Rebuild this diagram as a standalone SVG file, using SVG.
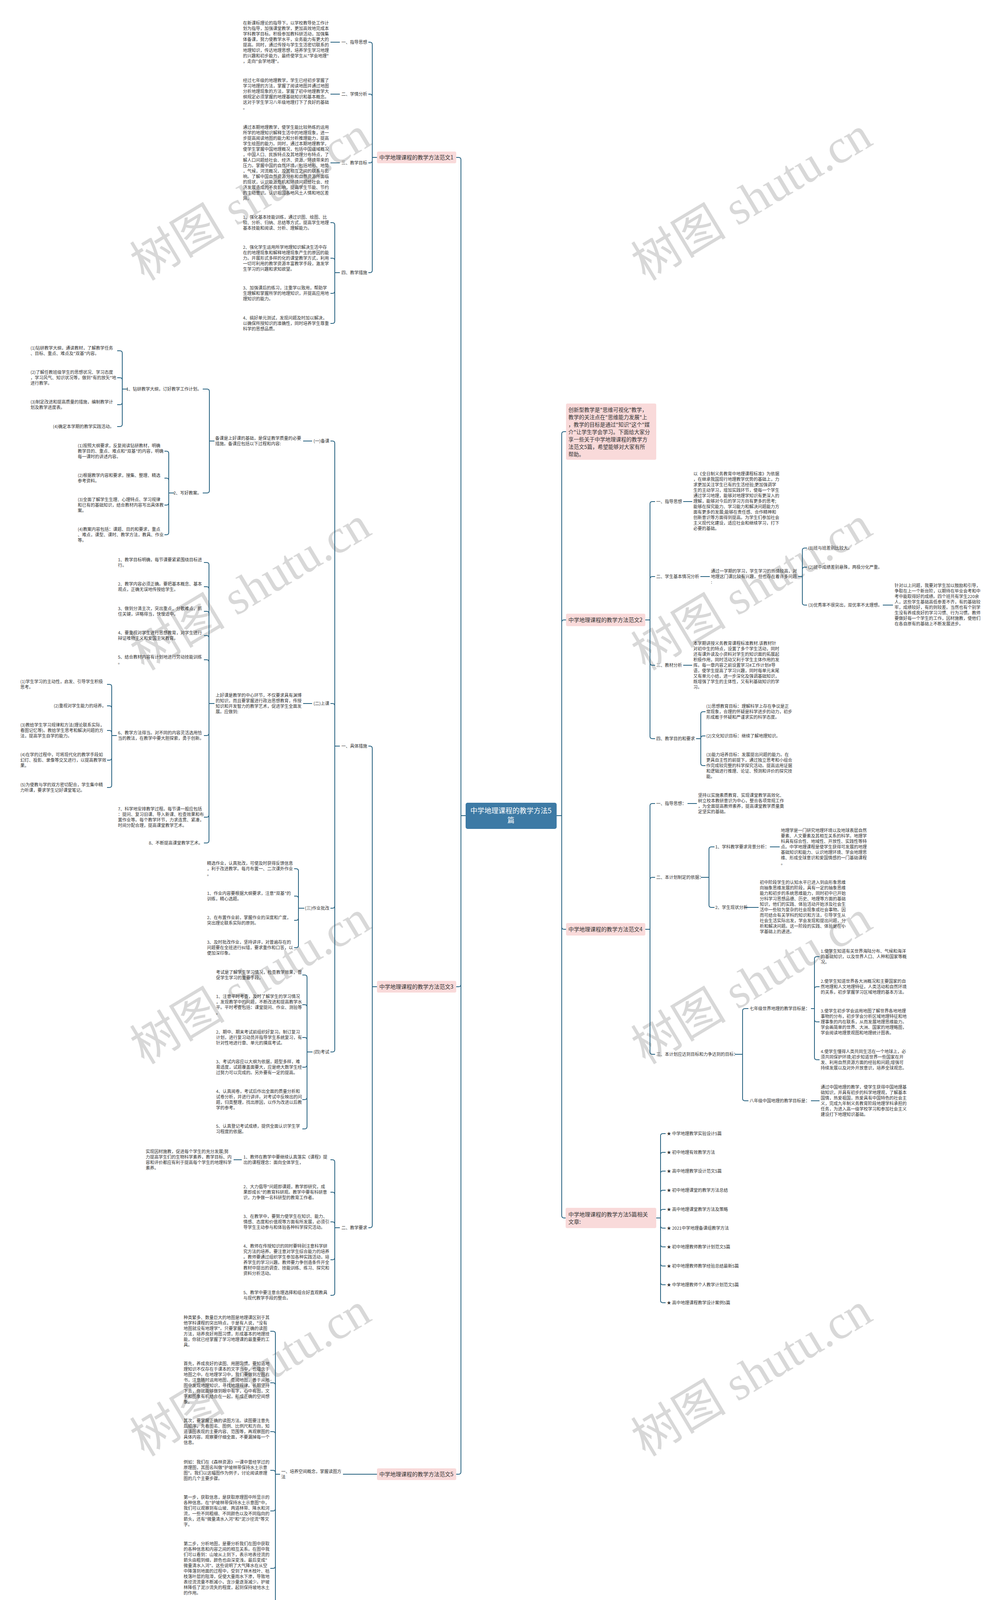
<svg xmlns="http://www.w3.org/2000/svg" width="2560" height="4214" viewBox="0 0 2560 4214">
<style>
text{font-family:"Noto Sans CJK SC","Liberation Sans",sans-serif;fill:#333}
.t{font-size:11px}
.e{font-size:11px;text-anchor:end}
.n{font-size:14px;text-anchor:middle}
.i{font-size:13.5px}
.c{font-size:18px;fill:#fff;text-anchor:middle}
.box{fill:#f9dada}
.wm{font-family:"Liberation Serif","Noto Sans CJK SC",serif;font-size:122px;fill:#cfcfcf;text-anchor:middle;opacity:.8}
#edges path{fill:none;stroke:#24607f;stroke-width:2}
</style>
<rect width="2560" height="4214" fill="#fff"/>
<g id="watermark">
<text class="wm" x="642" y="550" transform="rotate(-31 642 510)">树图 shutu.cn</text>
<text class="wm" x="1925" y="550" transform="rotate(-31 1925 510)">树图 shutu.cn</text>
<text class="wm" x="642" y="1548" transform="rotate(-31 642 1508)">树图 shutu.cn</text>
<text class="wm" x="1925" y="1548" transform="rotate(-31 1925 1508)">树图 shutu.cn</text>
<text class="wm" x="642" y="2556" transform="rotate(-31 642 2516)">树图 shutu.cn</text>
<text class="wm" x="1925" y="2556" transform="rotate(-31 1925 2516)">树图 shutu.cn</text>
<text class="wm" x="642" y="3560" transform="rotate(-31 642 3520)">树图 shutu.cn</text>
<text class="wm" x="1925" y="3560" transform="rotate(-31 1925 3520)">树图 shutu.cn</text>
</g>
<g id="edges">
<path d="M1168,403 H1174 Q1180,403 1180,409 V2088 H1192"/>
<path d="M1168,2526 H1174 Q1180,2526 1180,2520 V2088"/>
<path d="M1168,3774 H1174 Q1180,3774 1180,3768 V2088"/>
<path d="M1449,1105 H1444 Q1438,1105 1438,1111 V2088 H1425"/>
<path d="M1449,1587 H1444 Q1438,1587 1438,1593 V2088"/>
<path d="M1449,2379 H1444 Q1438,2379 1438,2373 V2088"/>
<path d="M1448,3118 H1444 Q1438,3118 1438,3112 V2088"/>
<path d="M943,108 H947 Q953,108 953,114 V403 H965"/>
<path d="M943,241 H947 Q953,241 953,247 V403"/>
<path d="M943,417 H947 Q953,417 953,411 V403"/>
<path d="M943,698 H947 Q953,698 953,692 V403"/>
<path d="M846,108 H870"/><path d="M846,241 H870"/><path d="M846,417 H870"/>
<path d="M846,570 H851 Q857,570 857,576 V698 H870"/>
<path d="M846,661 H851 Q857,661 857,667 V698"/>
<path d="M846,751 H851 Q857,751 857,745 V698"/>
<path d="M846,828 H851 Q857,828 857,822 V698"/>
<path d="M943,1910 H947 Q953,1910 953,1916 V2526 H965"/>
<path d="M943,3143 H947 Q953,3143 953,3137 V2526"/>
<path d="M846,1129 H851 Q857,1129 857,1135 V1910 H870"/>
<path d="M846,1801 H851 Q857,1801 857,1807 V1910"/>
<path d="M846,2325 H851 Q857,2325 857,2319 V1910"/>
<path d="M846,2693 H851 Q857,2693 857,2687 V1910"/>
<path d="M776,1129 H799"/>
<path d="M519,996 H530 Q536,996 536,1002 V1129 H549"/>
<path d="M519,1262 H530 Q536,1262 536,1256 V1129"/>
<path d="M300,898 H307 Q313,898 313,904 V996 H327"/>
<path d="M300,967 H307 Q313,967 313,973 V996"/>
<path d="M300,1036 H307 Q313,1036 313,1030 V996"/>
<path d="M300,1092 H307 Q313,1092 313,1086 V996"/>
<path d="M421,1155 H426 Q432,1155 432,1161 V1262 H446"/>
<path d="M421,1224 H426 Q432,1224 432,1230 V1262"/>
<path d="M421,1293 H426 Q432,1293 432,1287 V1262"/>
<path d="M421,1369 H426 Q432,1369 432,1363 V1262"/>
<path d="M776,1801 H799"/>
<path d="M522,1440 H529 Q535,1440 535,1446 V1801 H549"/>
<path d="M522,1502 H529 Q535,1502 535,1508 V1801"/>
<path d="M522,1565 H529 Q535,1565 535,1571 V1801"/>
<path d="M522,1627 H529 Q535,1627 535,1633 V1801"/>
<path d="M522,1689 H529 Q535,1689 535,1695 V1801"/>
<path d="M522,1883 H529 Q535,1883 535,1877 V1801"/>
<path d="M522,2092 H529 Q535,2092 535,2086 V1801"/>
<path d="M522,2158 H529 Q535,2158 535,2152 V1801"/>
<path d="M274,1752 H280 Q286,1752 286,1758 V1883 H299"/>
<path d="M274,1807 H280 Q286,1807 286,1813 V1883"/>
<path d="M274,1870 H280 Q286,1870 286,1876 V1883"/>
<path d="M274,1946 H280 Q286,1946 286,1940 V1883"/>
<path d="M274,2016 H280 Q286,2016 286,2010 V1883"/>
<path d="M753,2224 H758 Q764,2224 764,2230 V2325 H779"/>
<path d="M753,2294 H758 Q764,2294 764,2300 V2325"/>
<path d="M753,2356 H758 Q764,2356 764,2350 V2325"/>
<path d="M753,2426 H758 Q764,2426 764,2420 V2325"/>
<path d="M774,2496 H780 Q786,2496 786,2502 V2693 H800"/>
<path d="M774,2572 H780 Q786,2572 786,2578 V2693"/>
<path d="M774,2656 H780 Q786,2656 786,2662 V2693"/>
<path d="M774,2732 H780 Q786,2732 786,2726 V2693"/>
<path d="M774,2815 H780 Q786,2815 786,2809 V2693"/>
<path d="M774,2890 H780 Q786,2890 786,2884 V2693"/>
<path d="M846,2969 H851 Q857,2969 857,2975 V3143 H870"/>
<path d="M846,3052 H851 Q857,3052 857,3058 V3143"/>
<path d="M846,3128 H851 Q857,3128 857,3134 V3143"/>
<path d="M846,3225 H851 Q857,3225 857,3219 V3143"/>
<path d="M846,3316 H851 Q857,3316 857,3310 V3143"/>
<path d="M598,2969 H619"/>
<path d="M878,3774 H965"/>
<path d="M692,3408 H699 Q705,3408 705,3414 V3774 H717"/>
<path d="M692,3540 H699 Q705,3540 705,3546 V3774"/>
<path d="M692,3665 H699 Q705,3665 705,3671 V3774"/>
<path d="M692,3764 H699 Q705,3764 705,3770 V3774"/>
<path d="M692,3868 H699 Q705,3868 705,3862 V3774"/>
<path d="M692,4015 H699 Q705,4015 705,4009 V3774"/>
<path d="M692,4141 H699 Q705,4141 705,4135 V3774"/>
<path d="M1677,1284 H1670 Q1664,1284 1664,1290 V1587 H1652"/>
<path d="M1677,1476 H1670 Q1664,1476 1664,1482 V1587"/>
<path d="M1677,1703 H1670 Q1664,1703 1664,1697 V1587"/>
<path d="M1677,1891 H1670 Q1664,1891 1664,1885 V1587"/>
<path d="M1749,1284 H1772"/><path d="M1793,1476 H1817"/><path d="M1749,1703 H1772"/>
<path d="M2066,1403 H2060 Q2054,1403 2054,1409 V1476 H2043"/>
<path d="M2066,1452 H2060 Q2054,1452 2054,1458 V1476"/>
<path d="M2066,1549 H2060 Q2054,1549 2054,1543 V1476"/>
<path d="M2260,1549 H2286"/>
<path d="M1806,1822 H1800 Q1794,1822 1794,1828 V1891 H1782"/>
<path d="M1806,1884 H1800 Q1794,1884 1794,1890 V1891"/>
<path d="M1806,1960 H1800 Q1794,1960 1794,1954 V1891"/>
<path d="M1677,2057 H1670 Q1664,2057 1664,2063 V2379 H1652"/>
<path d="M1677,2246 H1670 Q1664,2246 1664,2252 V2379"/>
<path d="M1677,2699 H1670 Q1664,2699 1664,2693 V2379"/>
<path d="M1760,2057 H1784"/>
<path d="M1829,2168 H1821 Q1815,2168 1815,2174 V2246 H1794"/>
<path d="M1829,2323 H1821 Q1815,2323 1815,2317 V2246"/>
<path d="M1971,2168 H1996"/><path d="M1906,2323 H1942"/>
<path d="M1916,2582 H1907 Q1901,2582 1901,2588 V2699 H1881"/>
<path d="M1916,2818 H1907 Q1901,2818 1901,2812 V2699"/>
<path d="M2098,2449 H2091 Q2085,2449 2085,2455 V2582 H2076"/>
<path d="M2098,2526 H2091 Q2085,2526 2085,2532 V2582"/>
<path d="M2098,2616 H2091 Q2085,2616 2085,2610 V2582"/>
<path d="M2098,2713 H2091 Q2085,2713 2085,2707 V2582"/>
<path d="M2076,2818 H2098"/>
<path d="M1704,2902 H1697 Q1691,2902 1691,2908 V3118 H1680"/>
<path d="M1704,2950 H1697 Q1691,2950 1691,2956 V3118"/>
<path d="M1704,2998 H1697 Q1691,2998 1691,3004 V3118"/>
<path d="M1704,3047 H1697 Q1691,3047 1691,3053 V3118"/>
<path d="M1704,3096 H1697 Q1691,3096 1691,3102 V3118"/>
<path d="M1704,3144 H1697 Q1691,3144 1691,3138 V3118"/>
<path d="M1704,3192 H1697 Q1691,3192 1691,3186 V3118"/>
<path d="M1704,3241 H1697 Q1691,3241 1691,3235 V3118"/>
<path d="M1704,3289 H1697 Q1691,3289 1691,3283 V3118"/>
<path d="M1704,3335 H1697 Q1691,3335 1691,3329 V3118"/>
</g>
<g id="center"><rect x="1192" y="2055" width="233" height="67" rx="5" fill="#3d7aa5"/><text class="c" x="1308" y="2082">中学地理课程的教学方法5</text><text class="c" x="1308" y="2106">篇</text></g>
<g id="intro"><rect class="box" x="1449" y="1033" width="231" height="144" rx="4"/>
<text class="i" x="1455" y="1054"><tspan x="1455">创新型教学是"思维可视化"教学，</tspan><tspan x="1455" dy="19">教学的关注点在"思维能力发展"上</tspan><tspan x="1455" dy="19">，教学的目标是通过"知识"这个"媒</tspan><tspan x="1455" dy="19">介"让学生学会学习。下面给大家分</tspan><tspan x="1455" dy="19">享一些关于中学地理课程的教学方</tspan><tspan x="1455" dy="19">法范文5篇，希望能够对大家有所</tspan><tspan x="1455" dy="19">帮助。</tspan></text></g>
<g id="n1"><rect class="box" x="965" y="388" width="203" height="30" rx="4"/><text class="n" x="1066" y="408">中学地理课程的教学方法范文1</text></g>
<g id="n1-1"><text class="e" x="940" y="112">一、指导思想</text>
<text class="t" x="622" y="63"><tspan x="622">在新课标理论的指导下，以学校教导处工作计</tspan><tspan x="622" dy="14">划为指导，加强课堂教学，更加高效地完成本</tspan><tspan x="622" dy="14">学科教学目标。积极参加教科研活动，加强集</tspan><tspan x="622" dy="14">体备课，努力使教学水平，业务能力有更大的</tspan><tspan x="622" dy="14">提高。同时，通过传授与学生生活密切联系的</tspan><tspan x="622" dy="14">地理知识，传达地理思想，培养学生学习地理</tspan><tspan x="622" dy="14">的兴趣和初步能力，最终使学生从"学会地理"</tspan><tspan x="622" dy="14">，走向"会学地理"。</tspan></text></g>
<g id="n1-2"><text class="e" x="940" y="245">二、学情分析</text>
<text class="t" x="622" y="210"><tspan x="622">经过七年级的地理教学，学生已经初步掌握了</tspan><tspan x="622" dy="14">学习地理的方法，掌握了阅读地图并通过地图</tspan><tspan x="622" dy="14">分析地理现象的方法，掌握了初中地理教学大</tspan><tspan x="622" dy="14">纲规定必须掌握的地理基础知识和基本概念。</tspan><tspan x="622" dy="14">这对于学生学习八年级地理打下了良好的基础</tspan><tspan x="622" dy="14">。</tspan></text></g>
<g id="n1-3"><text class="e" x="940" y="421">三、教学目标</text>
<text class="t" x="622" y="330"><tspan x="622">通过本期地理教学，使学生能比较熟练的运用</tspan><tspan x="622" dy="14">所学的地理知识解释生活中的地理现象，进一</tspan><tspan x="622" dy="14">步提高阅读地图的能力和分析推理能力，提高</tspan><tspan x="622" dy="14">学生绘图的能力。同时，通过本期地理教学，</tspan><tspan x="622" dy="14">使学生掌握中国地理概况，包括中国疆域概况</tspan><tspan x="622" dy="14">，中国人口、民族特点及其地理分布特点，了</tspan><tspan x="622" dy="14">解人口问题给社会、经济、资源、环境带来的</tspan><tspan x="622" dy="14">压力。掌握中国的自然环境，包括地形、地势</tspan><tspan x="622" dy="14">，气候，河流概况，及其相互之间的联系与影</tspan><tspan x="622" dy="14">响。了解中国自然资源分布和自然资源所面临</tspan><tspan x="622" dy="14">的现状，认识能源危机和环境问题给社会、经</tspan><tspan x="622" dy="14">济发展造成的不良影响，提高学生节能、节约</tspan><tspan x="622" dy="14">的主动意识。认识祖国各地风土人情和地区差</tspan><tspan x="622" dy="14">异。</tspan></text></g>
<g id="n1-4"><text class="e" x="940" y="702">四、教学措施</text>
<text class="t" x="622" y="560"><tspan x="622">1、强化基本技能训练，通过识图、绘图、比</tspan><tspan x="622" dy="14">较、分析、归纳、总结等方式，提高学生地理</tspan><tspan x="622" dy="14">基本技能和阅读、分析、理解能力。</tspan></text>
<text class="t" x="622" y="637"><tspan x="622">2、强化学生运用所学地理知识解决生活中存</tspan><tspan x="622" dy="14">在的地理现象和解释地理现象产生的原因的能</tspan><tspan x="622" dy="14">力。开展形式多样的化的课堂教学方式，利用</tspan><tspan x="622" dy="14">一切可利用的教学资源丰富教学手段，激发学</tspan><tspan x="622" dy="14">生学习的兴趣和求知欲望。</tspan></text>
<text class="t" x="622" y="741"><tspan x="622">3、加强课后的练习，注重学以致用，帮助学</tspan><tspan x="622" dy="14">生理解和掌握所学的地理知识，并提高应用地</tspan><tspan x="622" dy="14">理知识的能力。</tspan></text>
<text class="t" x="622" y="818"><tspan x="622">4、搞好单元测试，发现问题及时加以解决，</tspan><tspan x="622" dy="14">以确保所授知识的准确性，同时培养学生尊重</tspan><tspan x="622" dy="14">科学的思想品质。</tspan></text></g>
<g id="n3"><rect class="box" x="965" y="2511" width="203" height="30" rx="4"/><text class="n" x="1066" y="2531">中学地理课程的教学方法范文3</text></g>
<g id="n3-1"><text class="e" x="940" y="1914">一、具体措施</text></g>
<g id="n3-1-1"><text class="e" x="843" y="1133">(一)备课</text>
<text class="t" x="551" y="1126"><tspan x="551">备课是上好课的基础，是保证教学质量的必要</tspan><tspan x="551" dy="14">措施。备课应包括以下过程和内容:</tspan></text>
<text class="e" x="516" y="1000">1、钻研教学大纲，订好教学工作计划。</text>
<text class="t" x="78" y="895"><tspan x="78">(1)钻研教学大纲，通读教材，了解教学任务</tspan><tspan x="78" dy="14">、目标、重点、难点及"双基"内容。</tspan></text>
<text class="t" x="78" y="957"><tspan x="78">(2)了解任教班级学生的思想状况、学习态度</tspan><tspan x="78" dy="14">，学习风气、知识状况等，做到"有的放矢"地</tspan><tspan x="78" dy="14">进行教学。</tspan></text>
<text class="t" x="78" y="1033"><tspan x="78">(3)制定改进和提高质量的措施，编制教学计</tspan><tspan x="78" dy="14">划及教学进度表。</tspan></text>
<text class="e" x="292" y="1096">(4)确定本学期的教学实践活动。</text>
<text class="e" x="516" y="1266">2、写好教案。</text>
<text class="t" x="199" y="1145"><tspan x="199">(1)按照大纲要求，反复阅读钻研教材，明确</tspan><tspan x="199" dy="14">教学目的、重点、难点和"双基"的内容，明确</tspan><tspan x="199" dy="14">每一课时的讲述内容。</tspan></text>
<text class="t" x="199" y="1221"><tspan x="199">(2)根据教学内容和要求，搜集、整理、精选</tspan><tspan x="199" dy="14">参考资料。</tspan></text>
<text class="t" x="199" y="1283"><tspan x="199">(3)全面了解学生生理、心理特点、学习规律</tspan><tspan x="199" dy="14">和已有的基础知识，结合教材内容写出具体教</tspan><tspan x="199" dy="14">案。</tspan></text>
<text class="t" x="199" y="1359"><tspan x="199">(4)教案内容包括：课题、目的和要求，重点</tspan><tspan x="199" dy="14">、难点，课型、课时、教学方法，教具、作业</tspan><tspan x="199" dy="14">等。</tspan></text></g>
<g id="n3-1-2"><text class="e" x="843" y="1805">(二)上课</text>
<text class="t" x="552" y="1784"><tspan x="552">上好课是教学的中心环节，不仅要求具有渊博</tspan><tspan x="552" dy="14">的知识，而且要掌握进行政治思想教育，传授</tspan><tspan x="552" dy="14">知识和开发智力的教学艺术，促进学生全面发</tspan><tspan x="552" dy="14">展。应做到:</tspan></text>
<text class="t" x="302" y="1437"><tspan x="302">1、教学目标明确，每节课要紧紧围绕目标进</tspan><tspan x="302" dy="14">行。</tspan></text>
<text class="t" x="302" y="1499"><tspan x="302">2、教学内容必须正确。要把基本概念、基本</tspan><tspan x="302" dy="14">观点，正确无误地传授给学生。</tspan></text>
<text class="t" x="302" y="1562"><tspan x="302">3、做到分清主次，突出重点，分散难点，抓</tspan><tspan x="302" dy="14">住关键，详略得当，快慢适中。</tspan></text>
<text class="t" x="302" y="1624"><tspan x="302">4、要重视对学生进行思想教育，对学生进行</tspan><tspan x="302" dy="14">辩证唯物主义和爱国主义教育。</tspan></text>
<text class="t" x="302" y="1686"><tspan x="302">5、结合教材内容有计划地进行劳动技能训练</tspan><tspan x="302" dy="14">。</tspan></text>
<text class="t" x="302" y="1880"><tspan x="302">6、教学方法得当。对不同的内容灵活选用恰</tspan><tspan x="302" dy="14">当的教法，在教学中要大胆探索，勇于创新。</tspan></text>
<text class="t" x="302" y="2075"><tspan x="302">7、科学地安排教学过程。每节课一般应包括</tspan><tspan x="302" dy="14">：提问、复习旧课、导入新课、检查效果和布</tspan><tspan x="302" dy="14">置作业等。每个教学环节，力求连贯、紧凑，</tspan><tspan x="302" dy="14">时间分配合理，提高课堂教学艺术。</tspan></text>
<text class="e" x="519" y="2162">8、不断提高课堂教学艺术。</text>
<text class="t" x="52" y="1749"><tspan x="52">(1)学生学习的主动性，启发、引导学生积极</tspan><tspan x="52" dy="14">思考。</tspan></text>
<text class="e" x="272" y="1811">(2)重视对学生能力的培养。</text>
<text class="t" x="52" y="1860"><tspan x="52">(3)教给学生学习规律和方法(理论联系实际，</tspan><tspan x="52" dy="14">看图记忆等)。教给学生思考和解决问题的方</tspan><tspan x="52" dy="14">法，提高学生自学的能力。</tspan></text>
<text class="t" x="52" y="1936"><tspan x="52">(4)在学的过程中，可将现代化的教学手段如</tspan><tspan x="52" dy="14">幻灯、投影、录像等交叉进行，以提高教学效</tspan><tspan x="52" dy="14">果。</tspan></text>
<text class="t" x="52" y="2013"><tspan x="52">(5)为使教与学的双方密切配合，学生集中精</tspan><tspan x="52" dy="14">力听课，要求学生记好课堂笔记。</tspan></text></g>
<g id="n3-1-3"><text class="e" x="843" y="2329">(三)作业批改</text>
<text class="t" x="530" y="2214"><tspan x="530">精选作业，认真批改，可使及时获得反馈信息</tspan><tspan x="530" dy="14">，利于改进教学。每月布置一、二次课外作业</tspan><tspan x="530" dy="14">。</tspan></text>
<text class="t" x="530" y="2291"><tspan x="530">1、作业内容要根据大纲要求，注意"双基"的</tspan><tspan x="530" dy="14">训练，精心选题。</tspan></text>
<text class="t" x="530" y="2353"><tspan x="530">2、在布置作业前，掌握作业的深度和广度，</tspan><tspan x="530" dy="14">突出理论联系实际的原则。</tspan></text>
<text class="t" x="530" y="2416"><tspan x="530">3、及时批改作业，坚持讲评，对普遍存在的</tspan><tspan x="530" dy="14">问题要在全班进行纠错，要求重作和口答，以</tspan><tspan x="530" dy="14">便加深印象。</tspan></text></g>
<g id="n3-1-4"><text class="e" x="843" y="2697">(四)考试</text>
<text class="t" x="553" y="2493"><tspan x="553">考试是了解学生学习情况，检查教学效果，督</tspan><tspan x="553" dy="14">促学生学习的重要手段。</tspan></text>
<text class="t" x="553" y="2555"><tspan x="553">1、注意平时考查，及时了解学生的学习情况</tspan><tspan x="553" dy="14">，发现教学中的问题，不断改进和提高教学水</tspan><tspan x="553" dy="14">平。平时考查包括：课堂提问、作业、测验等</tspan><tspan x="553" dy="14">。</tspan></text>
<text class="t" x="553" y="2646"><tspan x="553">2、期中、期末考试前组织好复习。制订复习</tspan><tspan x="553" dy="14">计划，进行复习动员并指导学生系统复习，有</tspan><tspan x="553" dy="14">针对性地进行章、单元的摸底考试。</tspan></text>
<text class="t" x="553" y="2722"><tspan x="553">3、考试内容应以大纲为依据，题型多样，难</tspan><tspan x="553" dy="14">易适度，试题覆盖面要大，应是绝大数学生经</tspan><tspan x="553" dy="14">过努力可以完成的。另外要有一定的提高。</tspan></text>
<text class="t" x="553" y="2798"><tspan x="553">4、认真阅卷，考试后作出全面的质量分析和</tspan><tspan x="553" dy="14">试卷分析，并进行讲评。对考试中反映出的问</tspan><tspan x="553" dy="14">题，归类整理，找出原因，以作为改进以后教</tspan><tspan x="553" dy="14">学的参考。</tspan></text>
<text class="t" x="553" y="2887"><tspan x="553">5、认真登记考试成绩，提供全面认识学生学</tspan><tspan x="553" dy="14">习程度的依据。</tspan></text></g>
<g id="n3-2"><text class="e" x="940" y="3147">二、教学要求</text>
<text class="t" x="623" y="2966"><tspan x="623">1、教师在教学中要继续认真落实《课程》提</tspan><tspan x="623" dy="14">出的课程理念：面向全体学生，</tspan></text>
<text class="t" x="373" y="2952"><tspan x="373">实现因材施教，促进每个学生的充分发展;努</tspan><tspan x="373" dy="14">力提高学生们的生物科学素养，教学目标、内</tspan><tspan x="373" dy="14">容和评价都应有利于提高每个学生的地理科学</tspan><tspan x="373" dy="14">素养。</tspan></text>
<text class="t" x="623" y="3042"><tspan x="623">2、大力倡导"问题即课题，教学即研究，成</tspan><tspan x="623" dy="14">果即成长"的教育科研观。教学中要有科研意</tspan><tspan x="623" dy="14">识，力争做一名科研型的教育工作者。</tspan></text>
<text class="t" x="623" y="3118"><tspan x="623">3、在教学中，要努力使学生在知识、能力、</tspan><tspan x="623" dy="14">情感、态度和价值观等方面有所发展，必须引</tspan><tspan x="623" dy="14">导学生主动参与和体验各种科学探究活动。</tspan></text>
<text class="t" x="623" y="3194"><tspan x="623">4、教师在传授知识的同时要特别注意科学研</tspan><tspan x="623" dy="14">究方法的培养。要注意对学生综合能力的培养</tspan><tspan x="623" dy="14">。教师要通过组织学生参加各种实践活动，培</tspan><tspan x="623" dy="14">养学生的学习兴趣。教师要力争创造条件开全</tspan><tspan x="623" dy="14">教材中提出的调查、技能训练、练习、探究和</tspan><tspan x="623" dy="14">资料分析活动。</tspan></text>
<text class="t" x="623" y="3313"><tspan x="623">5、教学中要注意合理选择和组合好直观教具</tspan><tspan x="623" dy="14">与现代教学手段的整合。</tspan></text></g>
<g id="n5"><rect class="box" x="965" y="3759" width="203" height="30" rx="4"/><text class="n" x="1066" y="3779">中学地理课程的教学方法范文5</text></g>
<g id="n5-1"><text class="t" x="720" y="3771"><tspan x="720">一、培养空间概念，掌握读图方</tspan><tspan x="720" dy="14">法</tspan></text>
<text class="t" x="470" y="3377"><tspan x="470">种类繁多、数量巨大的地图是地理课区别于其</tspan><tspan x="470" dy="14">他学科课程的突出特点，于是有人说，"没有</tspan><tspan x="470" dy="14">地图就没有地理学"。只要掌握了正确的读图</tspan><tspan x="470" dy="14">方法，培养良好用图习惯，形成基本的地理技</tspan><tspan x="470" dy="14">能，你就已经掌握了学习地理课的最重要的工</tspan><tspan x="470" dy="14">具。</tspan></text>
<text class="t" x="470" y="3495"><tspan x="470">首先，养成良好的读图、用图习惯。要知道地</tspan><tspan x="470" dy="14">理知识不仅存在于课本的文字当中，也蕴含于</tspan><tspan x="470" dy="14">地图之中。在地理学习中，我们要做到左图右</tspan><tspan x="470" dy="14">书，注意随时运用地图，查阅地图，善于从地</tspan><tspan x="470" dy="14">图中发现地理知识，寻找地理规律。长期坚持</tspan><tspan x="470" dy="14">下去，你就能够做到眼中有字，心中有图，文</tspan><tspan x="470" dy="14">字和图象有机结合在一起，形成正确的空间想</tspan><tspan x="470" dy="14">象。</tspan></text>
<text class="t" x="470" y="3641"><tspan x="470">其次，要掌握正确的读图方法。读图要注意先</tspan><tspan x="470" dy="14">后顺序，先看图名、图例、比例尺和方向，知</tspan><tspan x="470" dy="14">道该图表现的主要内容、范围等，再观察图的</tspan><tspan x="470" dy="14">具体内容。观察要仔细全面，不要漏掉每一个</tspan><tspan x="470" dy="14">信息。</tspan></text>
<text class="t" x="470" y="3747"><tspan x="470">例如：我们在《森林资源》一课中曾经学过的</tspan><tspan x="470" dy="14">原理图，其图名叫做"护坡林带保持水土示意</tspan><tspan x="470" dy="14">图"。我们以这幅图作为例子，讨论阅读原理</tspan><tspan x="470" dy="14">图的几个主要步骤。</tspan></text>
<text class="t" x="470" y="3837"><tspan x="470">第一步，获取信息，是获取原理图中所显示的</tspan><tspan x="470" dy="14">各种信息。在"护坡林带保持水土示意图"中，</tspan><tspan x="470" dy="14">我们可以观察到有山坡、两道林带、降水和河</tspan><tspan x="470" dy="14">流，一些不同粗细、不同颜色以及不同指向的</tspan><tspan x="470" dy="14">箭头，还有"微量清水入河"和"泥沙径流"等文</tspan><tspan x="470" dy="14">字。</tspan></text>
<text class="t" x="470" y="3956"><tspan x="470">第二步，分析地图，是要分析我们在图中获取</tspan><tspan x="470" dy="14">的各种信息和内容之间的相互关系。在图中我</tspan><tspan x="470" dy="14">们可以看到：山坡从上到下，表示地表径流的</tspan><tspan x="470" dy="14">箭头由粗到细，颜色也由深变浅，最后变成"</tspan><tspan x="470" dy="14">微量清水入河"。这些说明了大气降水在从空</tspan><tspan x="470" dy="14">中降落到地面的过程中，受到了林木枝叶、枯</tspan><tspan x="470" dy="14">枝落叶层的阻滞，促使大量雨水下渗，导致地</tspan><tspan x="470" dy="14">表径流流量不断减小，含沙量逐渐减少。护坡</tspan><tspan x="470" dy="14">林降低了泥沙流失的程度，起到保持坡地水土</tspan><tspan x="470" dy="14">的作用。</tspan></text>
<text class="t" x="470" y="4131"><tspan x="470">第三步，说明原理，明确原理图所说明的原理</tspan><tspan x="470" dy="14">。这幅"护坡林带保持水土示意图"，说明了森</tspan><tspan x="470" dy="14">林具有保持水土的作用。</tspan></text></g>
<g id="n2"><rect class="box" x="1449" y="1571" width="203" height="32" rx="4"/><text class="n" x="1550" y="1592">中学地理课程的教学方法范文2</text></g>
<g id="n2-1"><text class="t" x="1680" y="1288">一、指导思想</text>
<text class="t" x="1775" y="1217"><tspan x="1775">以《全日制义务教育中地理课程标准》为依据</tspan><tspan x="1775" dy="14">，在继承我国现行地理教学优势的基础上，力</tspan><tspan x="1775" dy="14">求更加关注学生已有的生活经验;更加强调学</tspan><tspan x="1775" dy="14">生的主动学习，增加实践环节，使每一个学生</tspan><tspan x="1775" dy="14">通过学习地理，能够对地理学知识有更深入的</tspan><tspan x="1775" dy="14">理解，能够对今后的学习方向有更多的思考;</tspan><tspan x="1775" dy="14">能够在探究能力、学习能力和解决问题能力方</tspan><tspan x="1775" dy="14">面有更多的发展;能够在责任感、合作精神和</tspan><tspan x="1775" dy="14">创新意识等方面得到提高。为学生们参加社会</tspan><tspan x="1775" dy="14">主义现代化建设，适应社会和继续学习，打下</tspan><tspan x="1775" dy="14">必要的基础。</tspan></text></g>
<g id="n2-2"><text class="t" x="1680" y="1480">二、学生基本情况分析</text>
<text class="t" x="1820" y="1466"><tspan x="1820">通过一学期的学习，学生学习的热情较高，对</tspan><tspan x="1820" dy="14">地理这门课比较有兴趣，但也存在着许多问题</tspan><tspan x="1820" dy="14">:</tspan></text>
<text class="t" x="2069" y="1407">(1)班与班差别比较大。</text>
<text class="t" x="2069" y="1456">(2)班中成绩差别悬殊，两极分化严重。</text>
<text class="t" x="2069" y="1553">(3)优秀率不很突出，双优率不太理想。</text>
<text class="t" x="2290" y="1503"><tspan x="2290">针对以上问题，我要对学生加以鼓励和引导，</tspan><tspan x="2290" dy="14">争取在上一个新台阶，以期待在毕业会考和中</tspan><tspan x="2290" dy="14">考中能取得好的成绩。四个班共有学生220余</tspan><tspan x="2290" dy="14">人，这些学生基础高低参差不齐，有的基础较</tspan><tspan x="2290" dy="14">牢，成绩较好，有的则较差。当然也有个别学</tspan><tspan x="2290" dy="14">生没有养成良好的学习习惯、行为习惯。教师</tspan><tspan x="2290" dy="14">要做好每一个学生的工作，因材施教，使他们</tspan><tspan x="2290" dy="14">在各自原有的基础上不断发展进步。</tspan></text></g>
<g id="n2-3"><text class="t" x="1680" y="1707">三、教材分析</text>
<text class="t" x="1775" y="1651"><tspan x="1775">本学期讲授义务教育课程标准教材.该教材针</tspan><tspan x="1775" dy="14">对初中生的特点，设置了多个学生活动，同时</tspan><tspan x="1775" dy="14">还有课外读及小资料对学生的知识面的拓展起</tspan><tspan x="1775" dy="14">积极作用，同时活动又利于学生主体作用的发</tspan><tspan x="1775" dy="14">挥。每一章内容之前设置学习#工作计划#导</tspan><tspan x="1775" dy="14">语，使学生提高了学习兴趣，同时每单元末尾</tspan><tspan x="1775" dy="14">又有单元小结，进一步深化及强调基础知识，</tspan><tspan x="1775" dy="14">既增强了学生的主体性，又有利基础知识的学</tspan><tspan x="1775" dy="14">习。</tspan></text></g>
<g id="n2-4"><text class="t" x="1680" y="1895">四、教学目的和要求</text>
<text class="t" x="1808" y="1812"><tspan x="1808">(1)思想教育目标：理解科学上存在争议是正</tspan><tspan x="1808" dy="14">常现象，合理的怀疑是科学进步的动力，初步</tspan><tspan x="1808" dy="14">形成敢于怀疑和严谨求实的科学态度。</tspan></text>
<text class="t" x="1808" y="1888">(2)文化知识目标：继续了解地理知识。</text>
<text class="t" x="1808" y="1936"><tspan x="1808">(3)能力培养目标：发展提出问题的能力。在</tspan><tspan x="1808" dy="14">更具自主性的前提下，通过独立思考和小组合</tspan><tspan x="1808" dy="14">作完成较完整的科学探究活动。提高运用证据</tspan><tspan x="1808" dy="14">和逻辑进行推理、论证、预测和评价的探究技</tspan><tspan x="1808" dy="14">能。</tspan></text></g>
<g id="n4"><rect class="box" x="1449" y="2363" width="203" height="32" rx="4"/><text class="n" x="1550" y="2384">中学地理课程的教学方法范文4</text></g>
<g id="n4-1"><text class="t" x="1680" y="2061">一、指导思想：</text>
<text class="t" x="1787" y="2040"><tspan x="1787">坚持以实施素质教育、实现课堂教学高效化、</tspan><tspan x="1787" dy="14">树立校本教研意识为中心，整合各项常规工作</tspan><tspan x="1787" dy="14">，为全面提高教师素养，提高课堂教学质量奠</tspan><tspan x="1787" dy="14">定坚实的基础。</tspan></text></g>
<g id="n4-2"><text class="t" x="1680" y="2250">二、本计划制定的依据：</text>
<text class="t" x="1831" y="2172">1、学科教学要求背景分析：</text>
<text class="t" x="1999" y="2130"><tspan x="1999">地理学是一门研究地理环境以及地球表层自然</tspan><tspan x="1999" dy="14">要素、人文要素及其相互关系的科学。地理学</tspan><tspan x="1999" dy="14">科具有综合性、地域性、开放性、实践性等特</tspan><tspan x="1999" dy="14">点。中学地理课程是使学生获得可发展的地理</tspan><tspan x="1999" dy="14">基础知识和能力、认识地理环境、学会地理思</tspan><tspan x="1999" dy="14">维、形成全球意识和爱国情感的一门基础课程</tspan><tspan x="1999" dy="14">。</tspan></text>
<text class="t" x="1831" y="2327">2、学生现状分析</text>
<text class="t" x="1945" y="2263"><tspan x="1945">初中阶段学生的认知水平已进入到由形象思维</tspan><tspan x="1945" dy="14">向抽象思维发展的阶段，具有一定的抽象思维</tspan><tspan x="1945" dy="14">能力和初步的系统思维能力，同时初中已开始</tspan><tspan x="1945" dy="14">分科学习思想品德、历史、地理等方面的基础</tspan><tspan x="1945" dy="14">知识，他们的实践、体验活动开始涉及社会生</tspan><tspan x="1945" dy="14">活中一些较为复杂的社会现象或社会事物。因</tspan><tspan x="1945" dy="14">而可结合有关学科的知识和方法，引导学生从</tspan><tspan x="1945" dy="14">社会生活实际出发，学会发现和提出问题，分</tspan><tspan x="1945" dy="14">析和解决问题。这一阶段的实践、体验是在小</tspan><tspan x="1945" dy="14">学基础上的递进。</tspan></text></g>
<g id="n4-3"><text class="t" x="1680" y="2703">三、本计划应达到目标和力争达到的目标：</text>
<text class="t" x="1919" y="2586">七年级世界地理的教学目标是：</text>
<text class="t" x="2101" y="2439"><tspan x="2101">1.使学生知道有关世界海陆分布、气候和海洋</tspan><tspan x="2101" dy="14">的基础知识，以及世界人口、人种和国家等概</tspan><tspan x="2101" dy="14">况。</tspan></text>
<text class="t" x="2101" y="2516"><tspan x="2101">2.使学生知道世界各大洲概况和主要国家的自</tspan><tspan x="2101" dy="14">然地理和人文地理特征，人类活动和自然环境</tspan><tspan x="2101" dy="14">的关系，初步掌握学习区域地理的基本方法。</tspan></text>
<text class="t" x="2101" y="2592"><tspan x="2101">3.使学生初步学会运用地图了解世界各地地理</tspan><tspan x="2101" dy="14">事物的分布，初步学会分析区域地理特征和地</tspan><tspan x="2101" dy="14">理事象的内在联系，从而发展地理思维能力。</tspan><tspan x="2101" dy="14">学会画简单的世界、大洲、国家的地理略图，</tspan><tspan x="2101" dy="14">学会阅读地理景观图和地理统计图表。</tspan></text>
<text class="t" x="2101" y="2696"><tspan x="2101">4.使学生懂得人类共同生活在一个地球上，必</tspan><tspan x="2101" dy="14">须共同保护环境;初步知道世界一些国家在开</tspan><tspan x="2101" dy="14">发、利用自然资源方面的经验和问题;增强可</tspan><tspan x="2101" dy="14">持续发展以及对外开放意识，培养全球观念。</tspan></text>
<text class="t" x="1919" y="2822">八年级中国地理的教学目标是：</text>
<text class="t" x="2101" y="2787"><tspan x="2101">通过中国地理的教学，使学生获得中国地理基</tspan><tspan x="2101" dy="14">础知识，并具有初步的科学地理观，了解基本</tspan><tspan x="2101" dy="14">国情，热爱祖国，热爱具有中国特色的社会主</tspan><tspan x="2101" dy="14">义，完成九年制义务教育阶段地理学科承担的</tspan><tspan x="2101" dy="14">任务，为进入高一级学校学习和参加社会主义</tspan><tspan x="2101" dy="14">建设打下地理知识基础。</tspan></text></g>
<g id="related"><rect class="box" x="1448" y="3092" width="232" height="52" rx="4"/>
<text style="font-size:14px" x="1455" y="3114"><tspan x="1455">中学地理课程的教学方法5篇相关</tspan><tspan x="1455" dy="19">文章:</tspan></text>
<text class="t" x="1707" y="2906">★ 中学地理教学实验设计5篇</text>
<text class="t" x="1707" y="2954">★ 初中地理有效教学方法</text>
<text class="t" x="1707" y="3002">★ 高中地理教学设计范文5篇</text>
<text class="t" x="1707" y="3051">★ 初中地理课堂的教学方法总结</text>
<text class="t" x="1707" y="3100">★ 高中地理课堂教学方法及策略</text>
<text class="t" x="1707" y="3148">★ 2021中学地理备课组教学方法</text>
<text class="t" x="1707" y="3196">★ 初中地理教师教学计划范文5篇</text>
<text class="t" x="1707" y="3245">★ 初中地理教师教学经验总结最新5篇</text>
<text class="t" x="1707" y="3293">★ 中学地理教师个人教学计划范文5篇</text>
<text class="t" x="1707" y="3339">★ 高中地理课程教学设计案例5篇</text></g>
</svg>
